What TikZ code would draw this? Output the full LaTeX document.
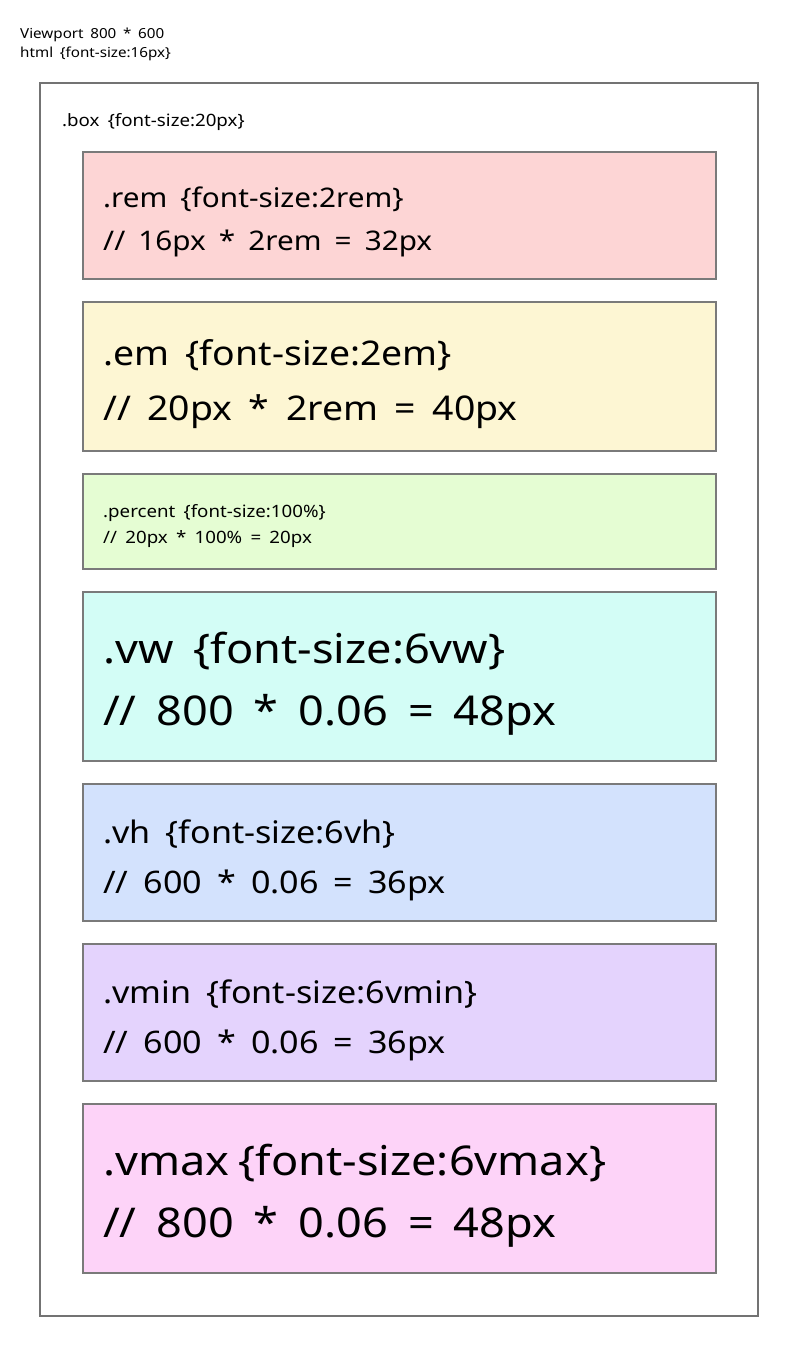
\documentclass[tikz,border=0pt]{standalone}
\usepackage{fontspec}
\setmainfont{Noto Sans}[FakeStretch=1.1,WordSpace=1.7]
\begin{document}
\begin{tikzpicture}[x=1pt,y=-1pt,
  frame/.style={draw=black!55,line width=1.6pt},
  unitbox/.style={draw=black!52,line width=1.6pt},
  txt/.style={anchor=base west,inner sep=0pt,text=black}]
\useasboundingbox[fill=white] (0,0) rectangle (799,1357);
% page notes
\node[txt,font=\fontsize{13.8}{17}\selectfont] (vp) at (20,38) {Viewport 800 * 600};
\node[txt,font=\fontsize{13.8}{17}\selectfont] (ht) at (20,57) {html \{font-size:16px\}};
% outer container
\draw[frame] (40,83) rectangle (758,1316);
\node[txt,font=\fontsize{17}{20}\selectfont] (bx) at (62,126) {.box \{font-size:20px\}};
% rem
\draw[unitbox,fill={rgb,255:red,253;green,213;blue,213}] (83,152) rectangle (716,279);
\node[txt,font=\fontsize{27}{32}\selectfont] (r1) at (103,207) {.rem \{font-size:2rem\}};
\node[txt,font=\fontsize{27}{32}\selectfont] (r2) at (103,250) {// 16px * 2rem = 32px};
% em
\draw[unitbox,fill={rgb,255:red,253;green,246;blue,211}] (83,302) rectangle (716,451);
\node[txt,font=\fontsize{34}{40}\selectfont] (e1) at (103,365) {.em \{font-size:2em\}};
\node[txt,font=\fontsize{34}{40}\selectfont] (e2) at (103,420) {// 20px * 2rem = 40px};
% percent
\draw[unitbox,fill={rgb,255:red,229;green,253;blue,211}] (83,474) rectangle (716,569);
\node[txt,font=\fontsize{17}{20}\selectfont] (p1) at (103,517) {.percent \{font-size:100\%\}};
\node[txt,font=\fontsize{17}{20}\selectfont] (p2) at (103,543) {// 20px * 100\% = 20px};
% vw
\draw[unitbox,fill={rgb,255:red,211;green,253;blue,246}] (83,592) rectangle (716,761);
\node[txt,font=\fontsize{41}{48}\selectfont] (w1) at (103,663) {.vw \{font-size:6vw\}};
\node[txt,font=\fontsize{41}{48}\selectfont] (w2) at (103,725) {// 800 * 0.06 = 48px};
% vh
\draw[unitbox,fill={rgb,255:red,211;green,226;blue,253}] (83,784) rectangle (716,921);
\node[txt,font=\fontsize{31}{36}\selectfont] (h1) at (103,843) {.vh \{font-size:6vh\}};
\node[txt,font=\fontsize{31}{36}\selectfont] (h2) at (103,893) {// 600 * 0.06 = 36px};
% vmin
\draw[unitbox,fill={rgb,255:red,228;green,211;blue,253}] (83,944) rectangle (716,1081);
\node[txt,font=\fontsize{31}{36}\selectfont] (m1) at (103,1003) {.vmin \{font-size:6vmin\}};
\node[txt,font=\fontsize{31}{36}\selectfont] (m2) at (103,1053) {// 600 * 0.06 = 36px};
% vmax
\draw[unitbox,fill={rgb,255:red,253;green,211;blue,248}] (83,1104) rectangle (716,1273);
\node[txt,font=\fontsize{41}{48}\selectfont] (x1) at (103,1175) {.vmax\hspace{9pt}\{font-size:6vmax\}};
\node[txt,font=\fontsize{41}{48}\selectfont] (x2) at (103,1237) {// 800 * 0.06 = 48px};
\end{tikzpicture}
\end{document}
